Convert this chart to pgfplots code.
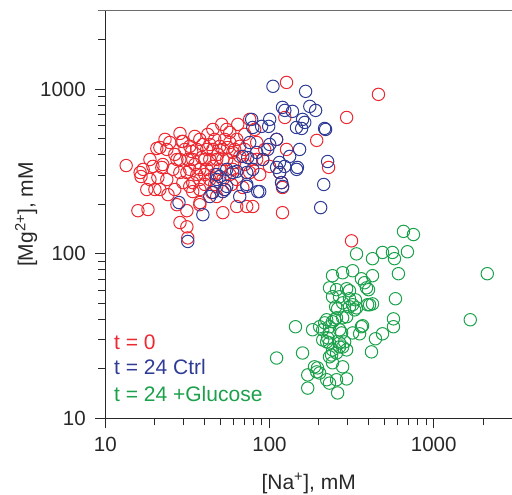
\documentclass[border=0pt]{standalone}
\usepackage{fontspec}
\setmainfont{Liberation Sans}
\usepackage{pgfplots}
\pgfplotsset{compat=1.18}
\definecolor{cred}{RGB}{236,40,48}
\definecolor{cblue}{RGB}{47,60,150}
\definecolor{cgreen}{RGB}{27,161,75}
\definecolor{axcol}{RGB}{40,40,40}
\begin{document}
\begin{tikzpicture}
\begin{axis}[
  name=ax,
  scale only axis, width=406.7pt, height=407.8pt,
  xmode=log, ymode=log,
  xmin=10, xmax=3000, ymin=10, ymax=3000,
  axis lines*=left,
  axis line style={axcol, line width=1.1pt},
  tick align=outside,
  major tick length=10pt, minor tick length=7pt,
  every tick/.style={axcol, line width=1pt},
  xtick={10,100,1000}, xticklabels={10,100,1000},
  ytick={10,100,1000}, yticklabels={10,100,1000},
  minor xtick={20,30,40,50,60,70,80,90,200,300,400,500,600,700,800,900,2000,3000},
  minor ytick={20,30,40,50,60,70,80,90,200,300,400,500,600,700,800,900,2000},
  tick label style={font=\fontsize{20.5}{24}\selectfont, text=axcol},
  xticklabel style={yshift=-5pt},
  yticklabel style={xshift=-6pt},
  xlabel={[Na\textsuperscript{+}], mM},
  ylabel={[Mg\textsuperscript{2+}], mM},
  label style={font=\fontsize{21}{25}\selectfont, text=axcol},
  xlabel style={at={(axis description cs:0.5,-0.1729)}, anchor=base},
  ylabel style={at={(axis description cs:-0.1778,0.5)}, anchor=base},
  clip=false,
]
% t = 0
\addplot[only marks, mark=o, mark size=6.2pt, line width=1pt, cred] coordinates {
(13.4,344) (16.3,312) (16.5,295) (18.7,374.5) (20.6,437) (23.7,431) (24.7,475) (28.5,539) (29.3,482) (22.1,335)
(20.9,291) (20.05,246) (17.9,246) (15.8,183) (18.2,186) (24.1,229) (27.3,199) (31.4,183) (28.5,155) (31.4,146)
(31.8,125) (25.8,326) (28.45,374.5) (32.7,450) (35.1,517) (37.65,496) (31.8,374.5) (31.4,312) (34.1,271) (37.65,246)
(37.65,199) (45.2,570) (46.4,496) (54.9,570) (57.3,547) (64.1,612) (75.8,656) (41.5,431) (45.2,431) (49.8,450)
(43.3,374.5) (47.7,375) (52.0,375) (41.5,326) (45.2,340) (49.8,326) (37.65,326) (34.1,374.5) (57.3,475) (63.2,496)
(65.9,450) (59.8,413) (65.9,391) (54.9,374.5) (59.8,326) (52.0,283) (63.2,283) (52.0,178) (63.2,194) (72.7,194)
(79.1,194) (47.7,257) (77.9,375) (83.6,375) (91.0,375) (100,340) (110.5,496) (127,431) (127,1100) (124,674)
(120,178) (83.6,475) (75.8,312) (28.45,312) (29.7,271) (32.7,257) (34.1,239) (461,931) (295,674) (194,489)
(229,335) (115.3,312) (118.5,271) (120,253) (316,120) (21.5,443) (17.0,326) (19.5,340) (22.4,349) (27.3,374.5)
(36.1,431) (33.6,419) (55.7,443) (52.0,431) (47.7,223) (37.7,205) (29.7,482) (43.3,283) (40.4,264) (46.4,303.5)
(53.4,246) (57.3,303.5) (70.7,349) (70.7,431) (40.4,374.5) (39.3,462) (48.5,402) (61.4,359) (68.8,253) (36.1,303.5)
(23.7,283) (26.5,246) (87.2,303.5) (93.5,431) (81.3,570) (70.7,532) (51.2,612) (42.1,532) (38.7,385) (58.9,264)
(35.1,349) (40.4,303.5) (46.4,264) (32.7,326) (53.4,496) (43.3,462) (61.4,431) (30.5,431) (26.5,402) (23.1,496)
(37.65,283) (44.5,236) (21.5,246) (18.7,283)
};
% t = 24 Ctrl
\addplot[only marks, mark=o, mark size=6.2pt, line width=1pt, cblue] coordinates {
(105,1042) (166,971) (120,776) (124,744) (138,734) (176,787) (191,744) (159,656) (164,629) (146,586)
(157,578) (216.6,578) (219.6,570) (100.3,656) (98.9,595) (89.6,595) (77.9,656) (152.6,431) (132.7,391) (115,359)
(97.6,431) (226,364) (91.0,374.5) (83.6,413) (79.1,586) (75.8,475) (72.7,312) (79.1,326) (84.8,239) (72.7,257)
(59.8,312) (63.2,317) (54.9,257) (53.4,246) (47.7,283) (47.7,303.5) (45.2,236) (43.3,223) (39.3,173) (118.5,271)
(120.3,257) (65.9,223) (28.1,205) (54.9,326) (49.8,295) (68.8,391) (73.7,385) (31.8,119) (110.5,496) (100.3,462)
(123.7,340) (148,335) (110.5,335) (214,264) (205,191) (87.2,239) (115.3,312) (146.3,326) (52.0,239) (72.7,264)
};
% t = 24 +Glucose
\addplot[only marks, mark=o, mark size=6.2pt, line width=1pt, cgreen] coordinates {
(655,137) (753,131) (339,100) (424,93.5) (488,102) (561,102) (577,93.5) (692,103) (610,75.8) (242,73.7)
(279,76.8) (321,79.0) (363,70.6) (379,66.8) (424,73.7) (232,62.2) (256,60.6) (295,61.4) (307,59.7) (390,62.2)
(401,60.6) (242,54.9) (267,54.9) (307,53.4) (334,52.6) (253,47.7) (260,46.4) (307,47.7) (339,47.0) (407,49.1)
(585,53.4) (279,40.9) (295,41.5) (256,40.9) (249,39.8) (223,39.8) (232,36.1) (202,36.1) (211,34.6) (183,34.6)
(144,36.1) (369,36.6) (321,33.1) (354,32.7) (267,34.6) (275,33.1) (232,33.1) (211,30.0) (223,29.2) (232,28.8)
(267,28.8) (279,27.2) (295,26.1) (242,26.1) (256,25.0) (239,24.3) (232,23.7) (569,40.3) (569,36.1) (488,32.7)
(442,30.5) (418,25.4) (159,25.0) (110.5,23.3) (279,20.6) (242,21.8) (188,20.6) (196,20.3) (194,19.2) (202,18.9)
(171,18.4) (223,17.2) (232,16.4) (295,17.4) (256,17.2) (171,15.3) (260,14.3) (2121,75.8) (1671,39.8) (217,38.1)
(424,49.7) (396,49.1) (279,50.4) (321,49.1) (330,45.7) (242,38.7) (226,30.9) (287,29.2) (267,27.2) (363,36.1)
};
\node[anchor=base west, inner sep=0pt, text=cred, font=\fontsize{21}{25}\selectfont] at (rel axis cs:0.0214,0.1704) {t = 0};
\node[anchor=base west, inner sep=0pt, text=cblue, font=\fontsize{21}{25}\selectfont] at (rel axis cs:0.0214,0.1067) {t = 24 Ctrl};
\node[anchor=base west, inner sep=0pt, text=cgreen, font=\fontsize{21}{25}\selectfont] at (rel axis cs:0.0214,0.0412) {t = 24 +Glucose};
\draw[gray!85!black, line width=1.4pt] ([xshift=-7pt]rel axis cs:0,1) -- (rel axis cs:1,1);
\end{axis}
\pgfresetboundingbox
\path ([xshift=-105.3pt,yshift=-75.5pt]ax.south west) rectangle ([yshift=10.7pt]ax.north east);
\end{tikzpicture}
\end{document}
